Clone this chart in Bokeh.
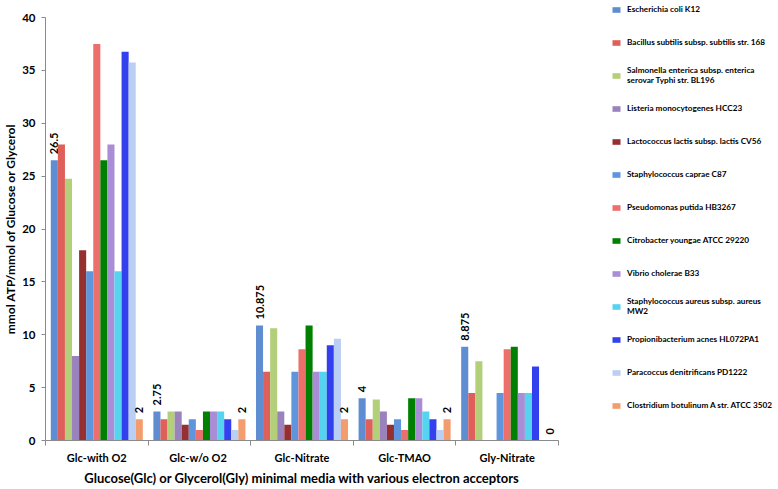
import math
from bokeh.plotting import figure
from bokeh.models import ColumnDataSource, Legend, LegendItem, FixedTicker, Range1d
from bokeh.embed import file_html
from bokeh.resources import INLINE
from bokeh.core.properties import value

categories = ["Glc-with O2", "Glc-w/o  O2", "Glc-Nitrate", "Glc-TMAO", "Gly-Nitrate"]

organisms = [
    "Escherichia coli K12",
    "Bacillus subtilis subsp. subtilis str. 168",
    "Salmonella enterica subsp. enterica\nserovar Typhi str. BL196",
    "Listeria monocytogenes HCC23",
    "Lactococcus lactis subsp. lactis CV56",
    "Staphylococcus caprae C87",
    "Pseudomonas putida HB3267",
    "Citrobacter youngae ATCC 29220",
    "Vibrio cholerae B33",
    "Staphylococcus aureus subsp. aureus\nMW2",
    "Propionibacterium acnes HL072PA1",
    "Paracoccus denitrificans PD1222",
    "Clostridium botulinum A str. ATCC 3502",
]

ecoli    = [26.5, 2.75, 10.875, 4, 8.875]
bsub     = [28, 2, 6.5, 2, 4.5]
salm     = [24.75, 2.75, 10.625, 3.875, 7.5]
listeria = [8, 2.75, 2.75, 2.75, 0]
lacto    = [18, 1.5, 1.5, 1.5, 0]
staph_c  = [16, 2, 6.5, 2, 4.5]
pseudo   = [37.5, 1, 8.625, 1, 8.625]
citro    = [26.5, 2.75, 10.875, 4, 8.875]
vibrio   = [28, 2.75, 6.5, 4, 4.5]
staph_a  = [16, 2.75, 6.5, 2.75, 4.5]
propioni = [36.75, 2, 9, 2, 7]
para     = [35.75, 1, 9.625, 1, 0]
clost    = [2, 2, 2, 2, 0]

series = [ecoli, bsub, salm, listeria, lacto, staph_c, pseudo, citro,
          vibrio, staph_a, propioni, para, clost]
labelled = {0, 12}

colors = ["#5f8dd2", "#df5f5b", "#b3cf7a", "#9a82bd", "#952f30", "#5e95dd",
          "#ec6f6b", "#008000", "#a98dd6", "#55d4f0", "#3340ee", "#b9cff3", "#f39c6e"]

FONT = "Lato"
AX = "#8a8a8a"

p = figure(frame_width=513, frame_height=423, output_backend="svg", toolbar_location=None,
           x_range=Range1d(0, len(categories)), y_range=Range1d(0, 40),
           min_border_left=30, min_border_top=17, min_border_right=218, min_border_bottom=10)
p.outline_line_color = None
p.grid.visible = False
p.background_fill_color = "white"

w = 0.069
items = []
for j, (name, vals, col) in enumerate(zip(organisms, series, colors)):
    xs = [i + 0.5 + (j - 6) * w for i in range(len(categories))]
    src = ColumnDataSource(dict(x=xs, top=vals, lab=[f"{v:g}" for v in vals]))
    r = p.vbar(x="x", top="top", width=w, source=src, fill_color=col, line_color=None)
    items.append(LegendItem(label=name, renderers=[r]))
    if j in labelled:
        p.text(x="x", y="top", text="lab", source=src, angle=math.pi / 2,
               text_align="left", text_baseline="middle", y_offset=-6,
               text_font=value(FONT), text_font_style="bold", text_font_size="11px",
               text_color="black")

# y axis
ya = p.yaxis[0]
ya.ticker = FixedTicker(ticks=list(range(0, 41, 5)))
ya.axis_line_color = AX
ya.major_tick_line_color = AX
ya.major_tick_out = 4
ya.major_tick_in = 0
ya.minor_tick_line_color = None
ya.major_label_standoff = 6
ya.major_label_text_font = FONT
ya.major_label_text_font_style = "bold"
ya.major_label_text_font_size = "11.5px"
ya.major_label_text_color = "black"
ya.axis_label = "mmol ATP/mmol of Glucose or Glycerol"
ya.axis_label_standoff = 1
ya.axis_label_text_font = FONT
ya.axis_label_text_font_style = "bold"
ya.axis_label_text_font_size = "12px"
ya.axis_label_text_color = "black"

# x axis
xa = p.xaxis[0]
xa.ticker = FixedTicker(ticks=[i + 0.5 for i in range(len(categories))],
                        minor_ticks=list(range(len(categories) + 1)))
xa.major_label_overrides = {i + 0.5: c for i, c in enumerate(categories)}
xa.axis_line_color = AX
xa.major_tick_line_color = None
xa.major_tick_out = 0
xa.major_tick_in = 0
xa.minor_tick_line_color = AX
xa.minor_tick_out = 5
xa.minor_tick_in = 0
xa.major_label_standoff = 5
xa.major_label_text_font = FONT
xa.major_label_text_font_style = "bold"
xa.major_label_text_font_size = "11px"
xa.major_label_text_color = "black"
xa.axis_label = "Glucose(Glc) or Glycerol(Gly) minimal media with various electron acceptors"
xa.axis_label_standoff = 3
xa.axis_label_text_font = FONT
xa.axis_label_text_font_style = "bold"
xa.axis_label_text_font_size = "13px"
xa.axis_label_text_color = "black"

legend = Legend(items=items, location=(53, 23))
legend.glyph_width = 10
legend.glyph_height = 7
legend.label_standoff = 6
legend.spacing = 9
legend.label_height = 24
legend.padding = 0
legend.margin = 0
legend.border_line_color = None
legend.background_fill_alpha = 0
legend.label_text_font = FONT
legend.label_text_font_style = "bold"
legend.label_text_font_size = "8.2px"
legend.label_text_line_height = 1.4
legend.label_text_color = "black"
p.add_layout(legend, "right")

open("out.html", "w").write(file_html(p, INLINE))
